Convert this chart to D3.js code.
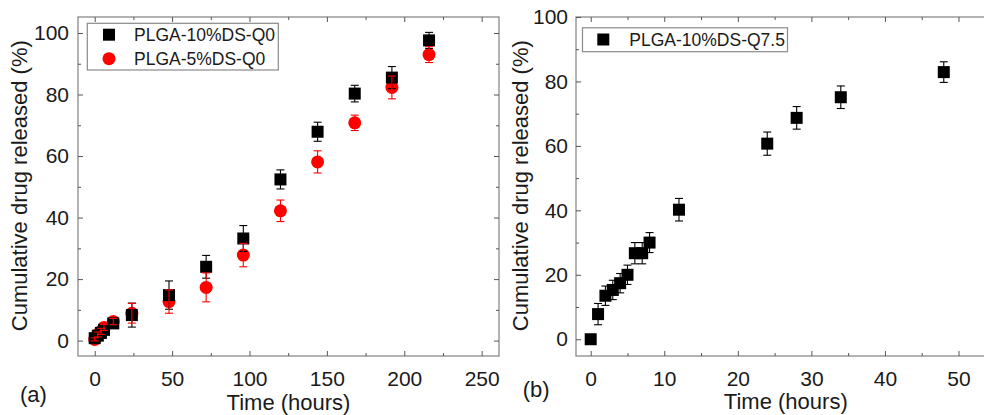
<!DOCTYPE html>
<html><head><meta charset="utf-8">
<script src="https://cdn.jsdelivr.net/npm/d3@7"></script>
<style>
html,body{margin:0;padding:0;background:#fff;}
svg{display:block;font-family:"Liberation Sans",Arial,sans-serif;}
</style></head>
<body><svg id="c" width="984" height="415"></svg>
<script>
// Panel (a)
const timeA = [0, 2, 4, 6, 12, 24, 48, 72, 96, 120, 144, 168, 192, 216];
const q0_10 = [0.8, 1.6, 2.5, 3.5, 5.6, 8.3, 14.8, 24, 33.2, 52.4, 67.9, 80.3, 85.5, 97.6];
const q0_10err = [0.5, 0.8, 1, 1, 1.2, 3.9, 4.6, 3.7, 4.2, 3.1, 3.1, 2.7, 3.6, 2.6];
const q0_5 = [0.4, 2, 3, 4.3, 6.2, 8.9, 12.7, 17.3, 27.8, 42.2, 58.1, 70.8, 82.3, 93];
const q0_5err = [0.5, 0.8, 1, 1, 1, 3.2, 3.8, 4.7, 3.8, 3.5, 3.6, 2.5, 3.7, 2.6];
const ticksXA = [0, 50, 100, 150, 200, 250];
const minorXA = [25, 75, 125, 175, 225];
// Panel (b)
const timeB = [0, 1, 2, 3, 4, 5, 6, 7, 8, 12, 24, 28, 34, 48];
const q75 = [0, 7.8, 13.5, 15.3, 17.4, 20, 26.7, 26.7, 30, 40.2, 60.7, 68.7, 75.1, 82.9];
const q75err = [0.3, 3.3, 3, 3, 3, 3, 3.3, 3.3, 3.1, 3.5, 3.6, 3.5, 3.5, 3.2];
const ticksXB = [0, 10, 20, 30, 40, 50];
const minorXB = [5, 15, 25, 35, 45];
const ticksY = [0, 20, 40, 60, 80, 100];
const minorY = [10, 30, 50, 70, 90];
const labelsA = ["PLGA-10%DS-Q0", "PLGA-5%DS-Q0"];
const labelsB = ["PLGA-10%DS-Q7.5"];

const svg = d3.select("#c");
const RED = "#ff0000", BLK = "#000000", FRAME = "#8a8a8a", TXT = "#1a1a1a";

function panel(o) {
  const {x, y, xt, xm, letter, ttlX, ttlY, letterPos, ypad, xTitleY} = o;
  const [x0, x1] = x.range(), [y0, y1] = y.range();
  const g = svg.append("g");
  g.append("rect").attr("x", x0).attr("y", y1).attr("width", x1 - x0).attr("height", y0 - y1)
    .attr("fill", "none").attr("stroke", FRAME).attr("stroke-width", 1.3);
  const style = sel => {
    sel.select(".domain").remove();
    sel.selectAll("line").attr("stroke", "#555").attr("stroke-width", 1);
    sel.selectAll("text").attr("fill", TXT).attr("font-size", 21)
      .attr("font-family", "Liberation Sans, Arial, sans-serif");
  };
  g.append("g").attr("transform", `translate(0,${y0})`)
    .call(d3.axisBottom(x).tickValues(xt).tickFormat(d3.format("d")).tickSize(-5).tickPadding(15)).call(style);
  g.append("g").attr("transform", `translate(0,${y0})`)
    .call(d3.axisBottom(x).tickValues(xm).tickFormat("").tickSize(-3)).call(style);
  g.append("g").attr("transform", `translate(0,${y1})`)
    .call(d3.axisTop(x).tickValues(xt).tickFormat("").tickSize(-5)).call(style);
  g.append("g").attr("transform", `translate(0,${y1})`)
    .call(d3.axisTop(x).tickValues(xm).tickFormat("").tickSize(-3)).call(style);
  g.append("g").attr("transform", `translate(${x0},0)`)
    .call(d3.axisLeft(y).tickValues(ticksY).tickFormat(d3.format("d")).tickSize(-5).tickPadding(ypad)).call(style);
  g.append("g").attr("transform", `translate(${x0},0)`)
    .call(d3.axisLeft(y).tickValues(minorY).tickFormat("").tickSize(-3)).call(style);
  g.append("g").attr("transform", `translate(${x1},0)`)
    .call(d3.axisRight(y).tickValues(ticksY).tickFormat("").tickSize(-5)).call(style);
  g.append("g").attr("transform", `translate(${x1},0)`)
    .call(d3.axisRight(y).tickValues(minorY).tickFormat("").tickSize(-3)).call(style);
  g.append("text").attr("x", ttlX).attr("y", xTitleY).attr("text-anchor", "middle")
    .attr("font-size", 22).attr("fill", TXT).text("Time (hours)");
  g.append("text").attr("transform", `translate(${ttlY},185.7) rotate(-90)`).attr("text-anchor", "middle")
    .attr("font-size", 22).attr("fill", TXT).text("Cumulative drug released (%)");
  g.append("text").attr("x", letterPos[0]).attr("y", letterPos[1])
    .attr("font-size", 22).attr("fill", TXT).text(letter);
  return g;
}

function errBars(g, x, y, xs, ys, es, color) {
  const cap = 4;
  const eg = g.append("g").attr("stroke", color).attr("stroke-width", 1.1).attr("fill", "none");
  xs.forEach((t, i) => {
    const cx = x(t), top = y(ys[i] + es[i]), bot = y(ys[i] - es[i]);
    eg.append("line").attr("x1", cx).attr("x2", cx).attr("y1", top).attr("y2", bot);
    eg.append("line").attr("x1", cx - cap).attr("x2", cx + cap).attr("y1", top).attr("y2", top);
    eg.append("line").attr("x1", cx - cap).attr("x2", cx + cap).attr("y1", bot).attr("y2", bot);
  });
}
function squares(g, x, y, xs, ys) {
  const s = 12;
  g.append("g").selectAll("rect").data(xs).join("rect")
    .attr("x", (d) => x(d) - s / 2).attr("y", (d, i) => y(ys[i]) - s / 2)
    .attr("width", s).attr("height", s).attr("fill", BLK);
}
function circles(g, x, y, xs, ys) {
  g.append("g").selectAll("circle").data(xs).join("circle")
    .attr("cx", (d) => x(d)).attr("cy", (d, i) => y(ys[i])).attr("r", 6.5).attr("fill", RED);
}

// Panel a
const xA = d3.scaleLinear().domain([-10.8, 261.2]).range([78, 499]);
const yA = d3.scaleLinear().domain([-5, 105.2]).range([356, 17]);
const gA = panel({x: xA, y: yA, xt: ticksXA, xm: minorXA, letter: "(a)", ttlX: 288.5, ttlY: 27.4,
  letterPos: [20, 402], ypad: 9, xTitleY: 410});
circles(gA, xA, yA, timeA, q0_5);
squares(gA, xA, yA, timeA, q0_10);
errBars(gA, xA, yA, timeA, q0_10, q0_10err, BLK);
errBars(gA, xA, yA, timeA, q0_5, q0_5err, RED);
const lgA = gA.append("g");
lgA.append("rect").attr("x", 87.3).attr("y", 23.3).attr("width", 191).attr("height", 46.7)
  .attr("fill", "#fff").attr("stroke", FRAME).attr("stroke-width", 1.2);
lgA.append("rect").attr("x", 109 - 6).attr("y", 34.7 - 6).attr("width", 12).attr("height", 12).attr("fill", BLK);
lgA.append("circle").attr("cx", 109).attr("cy", 58.7).attr("r", 6.5).attr("fill", RED);
labelsA.forEach((t, i) => lgA.append("text").attr("x", 134).attr("y", 34.7 + i * 24).attr("dy", "0.35em")
  .attr("font-size", 17.5).attr("fill", TXT).text(t));

// Panel b
const xB = d3.scaleLinear().domain([-2, 55.1]).range([576, 996]);
const yB = d3.scaleLinear().domain([-5.2, 100]).range([356, 17]);
const gB = panel({x: xB, y: yB, xt: ticksXB, xm: minorXB, letter: "(b)", ttlX: 785.8, ttlY: 528.4,
  letterPos: [522.7, 397], ypad: 8, xTitleY: 409});
squares(gB, xB, yB, timeB, q75);
errBars(gB, xB, yB, timeB, q75, q75err, BLK);
const lgB = gB.append("g");
lgB.append("rect").attr("x", 582.5).attr("y", 27.8).attr("width", 205).attr("height", 23.9)
  .attr("fill", "#fff").attr("stroke", FRAME).attr("stroke-width", 1.2);
lgB.append("rect").attr("x", 603.3 - 6).attr("y", 39.5 - 6).attr("width", 12).attr("height", 12).attr("fill", BLK);
labelsB.forEach((t, i) => lgB.append("text").attr("x", 629.3).attr("y", 39.5).attr("dy", "0.35em")
  .attr("font-size", 17.5).attr("fill", TXT).text(t));
</script></body></html>
